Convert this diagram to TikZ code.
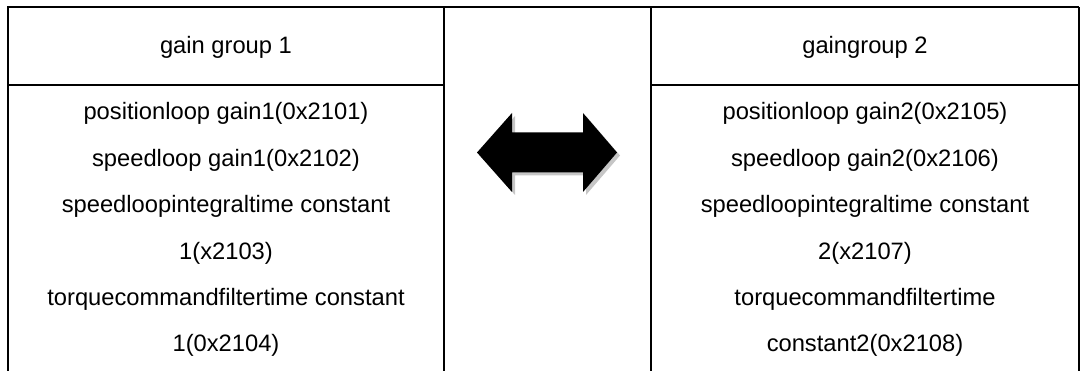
\documentclass[tikz,border=0pt]{standalone}
\usepackage{fontspec}
\setmainfont{Liberation Sans}
\usepackage{tikz}

\begin{document}
\begin{tikzpicture}[x=1cm,y=1cm,
    rule/.style={line width=1.1pt},
    cell/.style={anchor=base,inner sep=0pt,font=\fontsize{13.5}{16}\selectfont}]
    \useasboundingbox (0,0) rectangle (21.64,7.42);

    % Frame: the table runs off the bottom edge, so no bottom rule.
    \draw[rule] (0.16,0) -- (0.16,7.28) -- (21.58,7.28);
    \draw[rule] (8.88,0) -- (8.88,7.28);
    \draw[rule] (13.02,0) -- (13.02,7.28);
    \draw[line width=0.6pt] (21.58,7.28) -- (21.58,0);
    \draw[rule] (0.16,5.72) -- (8.88,5.72);
    \draw[rule] (13.02,5.72) -- (21.58,5.72);

    % Left group
    \node[cell] (head1) at (4.52,6.34) {gain group 1};
    \node[cell] (l1) at (4.52,5.02) {positionloop gain1(0x2101)};
    \node[cell] (l2) at (4.52,4.09) {speedloop gain1(0x2102)};
    \node[cell] (l3) at (4.52,3.16) {speedloopintegraltime constant};
    \node[cell] (l4) at (4.52,2.23) {1(x2103)};
    \node[cell] (l5) at (4.52,1.30) {torquecommandfiltertime constant};
    \node[cell] (l6) at (4.52,0.38) {1(0x2104)};

    % Right group
    \node[cell] (head2) at (17.30,6.34) {gaingroup 2};
    \node[cell] (r1) at (17.30,5.02) {positionloop gain2(0x2105)};
    \node[cell] (r2) at (17.30,4.09) {speedloop gain2(0x2106)};
    \node[cell] (r3) at (17.30,3.16) {speedloopintegraltime constant};
    \node[cell] (r4) at (17.30,2.23) {2(x2107)};
    \node[cell] (r5) at (17.30,1.30) {torquecommandfiltertime};
    \node[cell] (r6) at (17.30,0.38) {constant2(0x2108)};

    % Double arrow with a light drop shadow.
    \fill[gray!45,shift={(0.06,-0.06)}]
        (9.54,4.37) -- (10.24,5.16) -- (10.24,4.77) -- (11.66,4.77)
        -- (11.66,5.16) -- (12.34,4.37) -- (11.66,3.58) -- (11.66,3.97)
        -- (10.24,3.97) -- (10.24,3.58) -- cycle;
    \fill[black]
        (9.54,4.37) -- (10.24,5.16) -- (10.24,4.77) -- (11.66,4.77)
        -- (11.66,5.16) -- (12.34,4.37) -- (11.66,3.58) -- (11.66,3.97)
        -- (10.24,3.97) -- (10.24,3.58) -- cycle;
\end{tikzpicture}
\end{document}
